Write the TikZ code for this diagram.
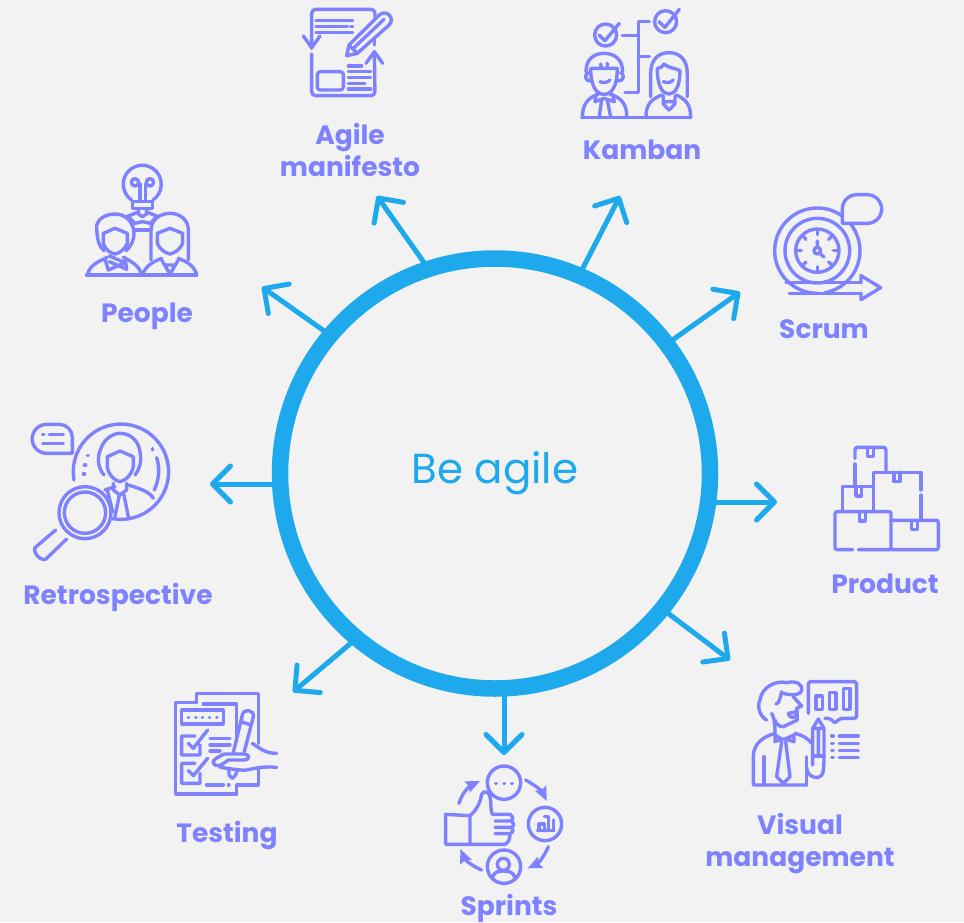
\documentclass[tikz,border=0pt]{standalone}
\usepackage{fontspec}
\setmainfont{Poppins}
\usetikzlibrary{arrows.meta}
\definecolor{bgc}{HTML}{F2F2F2}
\definecolor{iconc}{HTML}{7F82FF}
\definecolor{ringc}{HTML}{1DA9EC}
\tikzset{
 icon/.style 2 args={shift={(#1,#2)},x=0.3333pt,y=-0.3333pt,draw=iconc,line width=3.4pt,line join=round,line cap=round},
 lab/.style={text=iconc,font=\fontsize{26.5}{32}\selectfont\bfseries,align=center,inner sep=0pt},
 spoke/.style={draw=ringc,line width=5pt,-{Straight Barb[round,length=18pt,width=36pt,line width=5pt]}},
}
\begin{document}
\begin{tikzpicture}[x=1pt,y=-1pt]
\fill[bgc] (0,0) rectangle (964,922);
\useasboundingbox (0,0) rectangle (964,922);
\node[circle,draw=ringc,line width=16.5pt,minimum size=430pt,inner sep=0pt,outer sep=0pt,text=ringc,font=\fontsize{42}{48}\selectfont] (hub) at (495,473.5) {Be agile};
\coordinate (tAgile) at (377,196);
\coordinate (tKamban) at (620,196);
\coordinate (tScrum) at (740,292);
\coordinate (tProduct) at (777,502);
\coordinate (tVisual) at (730,660);
\coordinate (tSprints) at (504,755);
\coordinate (tTesting) at (293,692);
\coordinate (tRetro) at (210,484);
\coordinate (tPeople) at (262,287);
\draw[spoke] (hub.108.6) -- (tAgile);
\draw[spoke] (hub.67.2) -- (tKamban);
\draw[spoke] (hub.37.4) -- (tScrum);
\draw[spoke] (hub.east |- tProduct) -- (tProduct);
\draw[spoke] (hub.-39.4) -- (tVisual);
\draw[spoke] (hub.south -| tSprints) -- (tSprints);
\draw[spoke] (hub.230) -- (tTesting);
\draw[spoke] (hub.west |- tRetro) -- (tRetro);
\draw[spoke] (hub.140.3) -- (tPeople);
\node[lab] (lAgile) at (350,150) {Agile\\manifesto};
\node[lab] (lKamban) at (642,150) {Kamban};
\node[lab] (lPeople) at (147,316) {People};
\node[lab] (lScrum) at (824,329) {Scrum};
\node[lab] (lRetro) at (118,597) {Retrospective};
\node[lab] (lProduct) at (885,584) {Product};
\node[lab] (lVisual) at (800,844) {Visual\\management};
\node[lab] (lTesting) at (227,836) {Testing};
\node[lab] (lSprints) at (509,908) {Sprints};
% Agile manifesto + Kamban
\begin{scope}[icon={280}{0}]
\draw[rounded corners=4pt] (95,145) -- (95,28) -- (285,28) -- (285,52);
\draw (283,112) -- (283,135);
\draw[rounded corners=4pt] (283,158) -- (285,287) -- (95,287) -- (95,162);
\draw (70,108) -- (95,143) -- (120,108);
\draw (258,190) -- (283,155) -- (308,190);
\draw (108,62) -- (218,62) (108,79) -- (203,79) (212,79) -- (218,79) (108,97) -- (218,97);
\draw (200,167) -- (207,135) -- (298,45) arc[start angle=225,end angle=405,radius=21] -- (232,160) -- cycle;
\draw (207,135) -- (232,160) (222,143) -- (312,58);
\draw[rounded corners=3pt] (112,215) rectangle (190,270);
\draw (205,198) -- (245,198) (205,215) -- (272,215) (205,233) -- (272,233) (205,250) -- (255,250) (205,267) -- (272,267);
\draw (977,105) circle[radius=33];
\draw (957,105) -- (975,122) -- (1018,70);
\draw (1157,65) circle[radius=33];
\draw (1137,65) -- (1155,82) -- (1198,28);
\draw (1027,107) -- (1075,107) (1108,65) -- (1075,65) -- (1075,278) -- (1035,278) (1075,170) -- (1108,170);
\draw (905,353) -- (1232,353);
\draw (918,215) .. controls (918,175) and (945,160) .. (972,160) .. controls (1000,160) and (1028,175) .. (1028,215);
\draw (925,218) .. controls (912,222) and (915,245) .. (932,243);
\draw (1022,218) .. controls (1035,222) and (1032,245) .. (1014,243);
\draw (932,205) .. controls (932,260) and (950,283) .. (972,283) .. controls (995,283) and (1012,260) .. (1012,205) -- (932,205);
\draw (962,192) -- (965,205) (982,190) -- (982,205);
\draw (960,245) .. controls (970,250) and (982,248) .. (990,240);
\draw (908,353) .. controls (905,310) and (930,290) .. (955,283);
\draw (1040,353) .. controls (1043,310) and (1018,290) .. (990,283);
\draw (948,285) -- (945,305) -- (973,295) -- (1003,305) -- (998,283);
\draw (965,300) -- (958,350) (982,300) -- (992,350);
\draw (1112,290) -- (1112,220) .. controls (1112,180) and (1135,158) .. (1167,158) .. controls (1200,158) and (1222,180) .. (1222,220) -- (1222,290);
\draw (1132,205) .. controls (1145,205) and (1150,195) .. (1152,192) .. controls (1165,205) and (1190,205) .. (1200,212) .. controls (1200,260) and (1185,282) .. (1167,282) .. controls (1148,282) and (1132,260) .. (1132,205);
\draw (1150,245) .. controls (1160,250) and (1172,248) .. (1180,240);
\draw (1098,353) .. controls (1098,315) and (1110,300) .. (1145,285);
\draw (1232,353) .. controls (1232,315) and (1220,300) .. (1190,285);
\draw (1150,288) -- (1150,312) -- (1167,330) -- (1185,312) -- (1185,288) (1150,305) -- (1185,305);
\end{scope}
% People
\begin{scope}[icon={20}{150}]
\draw (335,150) arc[start angle=124,end angle=416,radius=57];
\draw (338,155) rectangle (398,175);
\draw (355,175) -- (355,192) -- (367,200) -- (380,192) -- (380,175);
\draw (345,97) circle[radius=11] (390,97) circle[radius=11];
\draw (360,150) -- (360,102) (376,150) -- (376,102);
\draw (320,200) -- (350,188) (385,188) -- (415,200);
\draw (330,205) -- (345,220) -- (367,215) -- (392,220) -- (405,205);
\draw (345,240) -- (393,240);
\draw (230,225) .. controls (235,205) and (260,192) .. (285,192) .. controls (320,192) and (342,220) .. (342,250) .. controls (342,275) and (328,295) .. (318,302) (252,302) .. controls (238,290) and (230,270) .. (230,225);
\draw (250,250) -- (285,235) -- (322,250) -- (322,280) .. controls (315,300) and (295,310) .. (285,312) .. controls (270,310) and (255,298) .. (250,280) -- cycle;
\draw (200,375) -- (530,375);
\draw (203,372) .. controls (210,345) and (235,335) .. (262,322);
\draw (365,372) .. controls (355,345) and (335,335) .. (310,322);
\draw (255,328) -- (265,360) -- (315,338) -- (268,318) (315,322) -- (320,358) -- (268,335);
\draw (393,330) -- (393,240) .. controls (393,210) and (420,190) .. (450,190) .. controls (480,190) and (505,210) .. (505,240) -- (505,330);
\draw (412,250) -- (450,235) -- (488,250) -- (488,280) .. controls (482,298) and (462,310) .. (450,312) .. controls (438,310) and (418,298) .. (412,280) -- cycle;
\draw (368,372) .. controls (380,345) and (400,335) .. (425,325);
\draw (530,372) .. controls (520,345) and (500,335) .. (475,325);
\draw (425,330) -- (450,372) -- (475,330) (435,345) -- (465,345);
\end{scope}
% Retrospective
\begin{scope}[icon={20}{415}]
\draw (157,115) -- (80,115) arc[start angle=90,end angle=270,radius=43.5] -- (118,28) arc[start angle=-90,end angle=0,radius=39] -- cycle;
\draw (68,58) -- (72,58) (88,58) -- (130,58) (68,85) -- (130,85);
\draw (162,195) arc[start angle=170,end angle=460,radius=143];
\draw (398,100) -- (398,105) (202,122) -- (205,122) (193,150) -- (197,150) (190,177) -- (194,177);
\draw (410,128) .. controls (420,160) and (418,190) .. (403,225);
\draw (252,180) .. controls (235,160) and (228,130) .. (245,95) .. controls (255,70) and (280,55) .. (300,55) .. controls (330,55) and (355,75) .. (360,110) .. controls (365,140) and (360,160) .. (345,180);
\draw (262,125) -- (300,108) -- (340,125) -- (340,155) .. controls (335,180) and (315,198) .. (300,200) .. controls (285,198) and (265,180) .. (262,155) -- cycle;
\draw (280,205) -- (280,225) -- (300,240) -- (320,225) -- (320,205);
\draw (255,225) -- (285,215) (400,250) .. controls (390,232) and (365,222) .. (325,210);
\draw (298,240) -- (285,305) (312,240) -- (325,305);
\draw (262,225) -- (278,290);
\fill[bgc] (195,293) circle[radius=78];
\draw (195,293) circle[radius=78] (195,293) circle[radius=62];
\draw (107,345) -- (45,398) .. controls (38,410) and (60,440) .. (78,432) -- (140,372);
\end{scope}
% Scrum
\begin{scope}[icon={760}{185}]
\draw (172,197) circle[radius=65] (172,197) circle[radius=97];
\foreach \a in {0,45,...,315} {\draw (172,197) ++(\a:48) -- ++(\a:16);}
\draw (172,197) circle[radius=10];
\draw (172,168) -- (172,186) (179,205) -- (192,216);
\draw (172,325) arc[start angle=90,end angle=305,radius=128];
\draw (270,115) arc[start angle=-40,end angle=80,radius=128];
\draw (78,293) -- (303,293) (88,325) -- (303,325);
\draw (303,293) -- (303,272) -- (362,308) -- (303,344) -- (303,325);
\draw (247,115) -- (247,72) arc[start angle=180,end angle=270,radius=43] -- (322,29) arc[start angle=-90,end angle=90,radius=43] -- cycle;
\end{scope}
% Product
\begin{scope}[icon={820}{440}]
\draw[rounded corners=2.5pt] (105,55) -- (105,22) -- (198,22) -- (198,95);
\draw (105,72) -- (105,140);
\draw (143,22) -- (143,50) -- (160,50) -- (160,22);
\draw (160,215) -- (160,97) -- (303,97) -- (303,150) (303,165) -- (303,240);
\draw (222,97) -- (222,125) -- (240,125) -- (240,97);
\draw (68,215) -- (68,140) -- (160,140);
\draw (108,140) -- (108,168) -- (125,168) -- (125,140);
\draw[rounded corners=2pt] (98,329) -- (45,329) -- (45,215) -- (213,215) -- (213,329) -- (115,329);
\draw (118,215) -- (118,243) -- (136,243) -- (136,215);
\draw[rounded corners=2pt] (213,241) -- (355,241) -- (355,329) -- (213,329);
\draw (275,241) -- (275,269) -- (292,269) -- (292,241);
\end{scope}
% Visual management
\begin{scope}[icon={740}{670}]
\draw[rounded corners=2.5pt] (205,130) -- (205,35) -- (350,35) -- (350,145) -- (300,145) -- (285,160) -- (270,145) -- (255,145);
\draw (228,78) rectangle (247,118) (268,68) rectangle (288,118) (310,55) rectangle (330,118);
\draw (218,175) -- (235,147) -- (252,175) -- (252,260) (218,175) -- (252,175) (218,175) -- (218,285) (235,175) -- (235,255);
\draw (218,258) -- (252,258);
\draw (200,292) .. controls (200,315) and (220,325) .. (235,322) .. controls (250,320) and (252,300) .. (252,260);
\draw (80,150) .. controls (60,140) and (50,110) .. (60,90) .. controls (65,50) and (110,30) .. (140,38) .. controls (170,30) and (190,45) .. (185,62) .. controls (180,75) and (160,78) .. (130,70);
\draw (125,65) .. controls (120,85) and (118,100) .. (108,102);
\draw (95,130) .. controls (100,140) and (105,150) .. (105,190) (160,80) -- (185,108) -- (170,115);
\draw (170,115) -- (172,150) -- (130,170) .. controls (115,170) and (108,160) .. (105,150);
\draw (145,130) .. controls (150,150) and (170,145) .. (172,125) -- (145,130);
\draw (40,345) -- (200,345) (40,345) -- (40,260) .. controls (40,220) and (70,200) .. (105,190);
\draw (165,190) .. controls (185,195) and (205,205) .. (215,220);
\draw (72,260) -- (72,345) (200,260) -- (200,345);
\draw (125,215) -- (110,320) -- (130,340) -- (150,320) -- (137,215);
\draw (105,195) -- (105,215) -- (125,207) -- (135,207) -- (162,215) -- (162,195) -- (135,207) (125,207) -- (105,195);
\draw (275,198) -- (280,198) (298,198) -- (355,198) (275,220) -- (280,220) (298,220) -- (355,220) (275,241) -- (280,241) (298,241) -- (355,241) (275,262) -- (280,262) (298,262) -- (355,262);
\end{scope}
% Sprints
\begin{scope}[icon={435}{755}]
\draw (207,83) circle[radius=50] (330,207) circle[radius=50] (207,335) circle[radius=50];
\draw (182,85) -- (184,85) (207,85) -- (209,85) (230,85) -- (232,85);
\draw (307,227) -- (357,227) (312,227) -- (312,207) (312,207) -- (328,207) -- (328,227) (328,185) -- (340,185) -- (340,227) (355,195) -- (355,227);
\draw (205,328) circle[radius=18];
\draw (172,368) .. controls (178,350) and (190,348) .. (205,348) .. controls (220,348) and (235,350) .. (240,368);
\begin{scope}[-{Stealth[length=14pt,width=12pt,inset=2pt]}]
\draw (272,75) .. controls (300,90) and (322,110) .. (335,138);
\draw (340,275) .. controls (330,300) and (310,325) .. (278,340);
\draw (140,345) .. controls (115,335) and (90,315) .. (76,282);
\draw (72,145) .. controls (80,115) and (105,92) .. (135,78);
\end{scope}
\draw (32,178) -- (105,182) -- (105,268) -- (32,268) -- cycle;
\draw (105,182) .. controls (125,165) and (135,145) .. (140,118) .. controls (145,105) and (162,110) .. (165,125) .. controls (170,145) and (165,165) .. (172,178) -- (225,178) .. controls (235,185) and (235,192) .. (228,198) -- (180,198) (228,198) .. controls (238,205) and (238,212) .. (230,217) -- (180,217) (230,217) .. controls (236,222) and (236,232) .. (225,236) -- (180,236) (225,236) .. controls (225,250) and (222,262) .. (210,268) -- (105,268);
\end{scope}
% Testing
\begin{scope}[icon={165}{680}]
\draw (95,68) -- (95,40) -- (280,40) -- (280,190) (280,262) -- (280,315) -- (215,315);
\draw (95,68) -- (32,68) -- (32,342) -- (215,342) -- (215,320) (115,72) -- (215,72) -- (215,185);
\draw (50,90) rectangle (175,132);
\draw (70,112) -- (71,112) (92,112) -- (93,112) (112,112) -- (113,112) (133,112) -- (134,112) (155,112) -- (156,112);
\draw (90,168) -- (50,168) -- (50,225) -- (105,225) -- (105,195) (70,190) -- (85,205) -- (128,150);
\draw (90,250) -- (50,250) -- (50,310) -- (105,310) -- (105,280) (70,272) -- (85,287) -- (128,235);
\draw (135,175) -- (195,175) (135,195) -- (195,195) (135,213) -- (165,213);
\draw (125,315) -- (175,315) (190,315) -- (192,315);
\draw (205,218) -- (232,105) .. controls (235,85) and (268,88) .. (265,110) -- (238,215);
\draw (228,125) -- (258,135);
\draw (192,265) -- (192,285) -- (202,295) -- (212,285) -- (218,268);
\draw (335,220) .. controls (300,220) and (285,205) .. (262,190);
\draw (335,262) .. controls (300,258) and (270,265) .. (245,270) .. controls (225,272) and (190,265) .. (165,262);
\draw (178,222) -- (238,222) .. controls (255,222) and (255,240) .. (238,240) -- (190,240) .. controls (175,250) and (165,262) .. (150,255) .. controls (135,245) and (150,235) .. (178,222);
\end{scope}
\end{tikzpicture}
\end{document}
